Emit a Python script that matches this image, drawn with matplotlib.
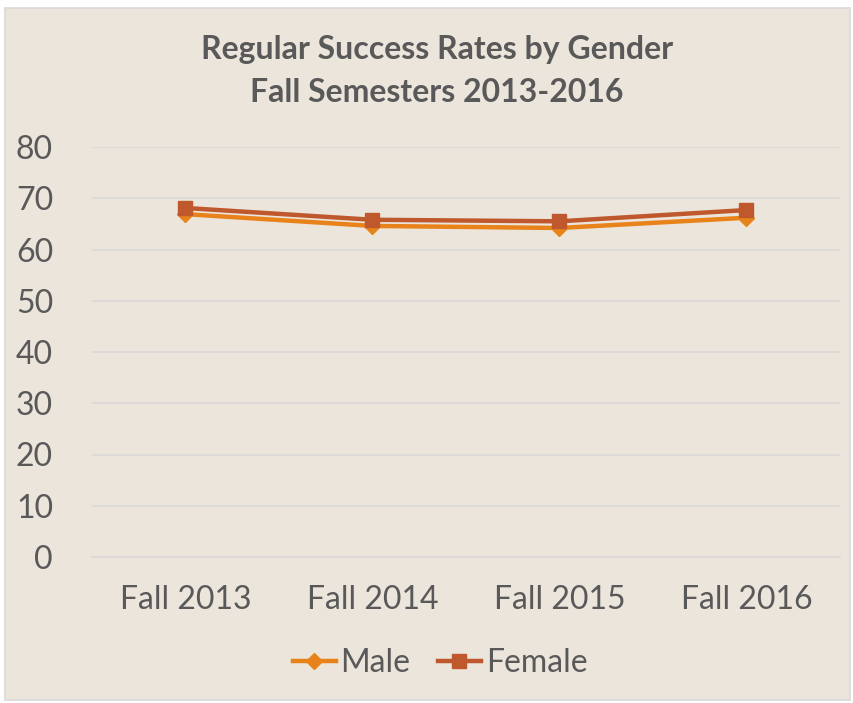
import matplotlib.pyplot as plt
from matplotlib.patches import Rectangle
import numpy as np

semesters = ["Fall 2013", "Fall 2014", "Fall 2015", "Fall 2016"]
male = [66.9, 64.6, 64.2, 66.2]
female = [68.1, 65.8, 65.5, 67.7]

BG = "#ECE5DC"
TXT = "#595959"
MALE_C = "#E8821A"
FEMALE_C = "#BF582C"


def main():
    plt.rcParams["font.family"] = ["Lato", "DejaVu Sans"]
    fig = plt.figure(figsize=(8.54, 7.03), dpi=100)
    fig.patch.set_facecolor("white")
    W, H = 854, 703

    # chart area background and border
    fig.patches.append(Rectangle((5 / W, 3 / H), 845 / W, 692 / H, transform=fig.transFigure,
                                 facecolor=BG, edgecolor="#D9D9D9", linewidth=1.2, zorder=-1))

    ax = fig.add_axes([92 / W, 1 - 557 / H, 748 / W, 410 / H])
    ax.set_facecolor("none")
    ax.set_zorder(1)
    x = np.arange(len(semesters))

    ax.plot(x, male, color=MALE_C, linewidth=3.2, marker="D", markersize=8,
            label="Male", zorder=3)
    ax.plot(x, female, color=FEMALE_C, linewidth=3.2, marker="s", markersize=10,
            label="Female", zorder=4)

    ax.set_xlim(-0.5, len(semesters) - 0.5)
    ax.set_ylim(0, 80)
    ax.set_yticks(range(0, 81, 10))
    ax.set_xticks(x)
    ax.set_xticklabels(semesters)
    ax.grid(axis="y", color="#D9D9D9", linewidth=1.2)
    ax.set_axisbelow(True)
    for s in ["top", "right", "left"]:
        ax.spines[s].set_visible(False)
    ax.spines["bottom"].set_color("#D9D9D9")
    ax.spines["bottom"].set_linewidth(1.2)
    ax.tick_params(axis="both", length=0, labelsize=23, colors=TXT)
    ax.tick_params(axis="x", pad=20)
    ax.tick_params(axis="y", pad=28)

    fig.text(437 / W, 1 - 50 / H, "Regular Success Rates by Gender", ha="center", va="center",
             fontsize=23, fontweight="bold", color=TXT)
    fig.text(437 / W, 1 - 93 / H, "Fall Semesters 2013-2016", ha="center", va="center",
             fontsize=23, fontweight="bold", color=TXT)

    fig.legend(loc="center", bbox_to_anchor=(440 / W, 1 - 663 / H), ncol=2, frameon=False,
               fontsize=23, labelcolor=TXT, handlelength=1.35, handletextpad=0.15,
               columnspacing=0.85)

    fig.savefig("out.png", dpi=100, facecolor=fig.get_facecolor())


if __name__ == "__main__":
    main()
